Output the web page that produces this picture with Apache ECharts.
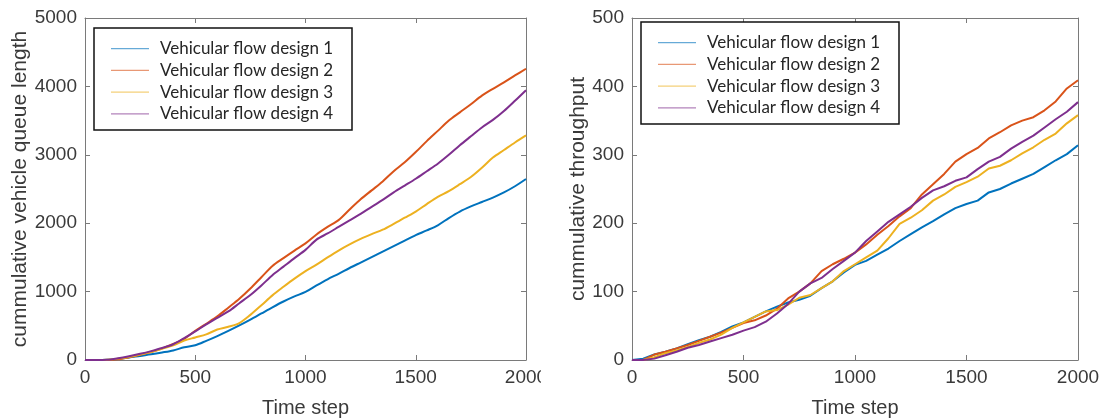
<!DOCTYPE html>
<html>
<head>
<meta charset="utf-8">
<script src="https://cdn.jsdelivr.net/npm/echarts@6/dist/echarts.min.js"></script>
<style>
  html, body { margin: 0; padding: 0; background: #fff; }
  #chart { width: 1100px; height: 420px; }
</style>
</head>
<body>
<div id="chart"></div>
<script>
// Simulation time steps shared by both panels
const timeSteps = [0, 50, 100, 150, 200, 250, 300, 350, 400, 450, 500, 550, 600, 650, 700, 750, 800, 850, 900, 950,
  1000, 1050, 1100, 1150, 1200, 1250, 1300, 1350, 1400, 1450, 1500, 1550, 1600, 1650, 1700, 1750, 1800, 1850, 1900, 1950, 2000];

const designNames = ['Vehicular flow design 1', 'Vehicular flow design 2', 'Vehicular flow design 3', 'Vehicular flow design 4'];
const designColors = ['#0072BD', '#D95319', '#EDB120', '#7E2F8E'];

// Cumulative vehicle queue length
const queueDesign1 = [0, 0, 3, 15, 35, 60, 83, 110, 140, 185, 215, 280, 350, 425, 505, 590, 680, 770, 855, 930,
  995, 1090, 1180, 1260, 1345, 1425, 1505, 1585, 1665, 1745, 1825, 1895, 1970, 2075, 2170, 2245, 2310, 2375, 2450, 2540, 2646];
const queueDesign2 = [0, 0, 0, 10, 40, 75, 117, 170, 235, 310, 425, 530, 637, 765, 895, 1045, 1210, 1375, 1490, 1600,
  1705, 1835, 1945, 2045, 2200, 2350, 2480, 2610, 2760, 2890, 3040, 3200, 3350, 3500, 3620, 3740, 3865, 3965, 4060, 4160, 4258];
const queueDesign3 = [0, 0, 3, 20, 45, 80, 117, 165, 215, 285, 330, 375, 445, 485, 540, 660, 800, 945, 1070, 1190,
  1300, 1395, 1500, 1600, 1690, 1770, 1840, 1905, 1990, 2080, 2170, 2280, 2385, 2470, 2570, 2675, 2810, 2960, 3070, 3180, 3283];
const queueDesign4 = [0, 0, 3, 25, 55, 90, 130, 175, 230, 320, 418, 520, 615, 710, 830, 950, 1090, 1240, 1365, 1490,
  1610, 1760, 1850, 1945, 2040, 2135, 2240, 2340, 2450, 2550, 2650, 2760, 2870, 3000, 3140, 3270, 3400, 3510, 3640, 3790, 3945];

// Cumulative throughput
const throughputDesign1 = [0, 2, 8, 12, 17, 23, 29, 34, 41, 49, 55, 63, 71, 78, 84, 88, 94, 105, 115, 128,
  139, 145, 154, 163, 174, 184, 194, 203, 213, 222, 228, 233, 245, 250, 258, 265, 272, 282, 292, 301, 314];
const throughputDesign2 = [0, 0, 8, 12, 17, 22, 28, 34, 40, 47, 54, 58, 65, 75, 90, 100, 112, 130, 140, 148,
  157, 169, 183, 196, 210, 222, 242, 257, 272, 290, 301, 310, 324, 333, 343, 350, 355, 365, 378, 397, 409];
const throughputDesign3 = [0, 0, 4, 10, 14, 19, 25, 30, 37, 47, 55, 63, 71, 73, 81, 91, 95, 105, 115, 130,
  140, 150, 160, 178, 199, 208, 219, 233, 242, 253, 260, 268, 280, 284, 292, 302, 311, 322, 331, 346, 358];
const throughputDesign4 = [0, 0, 2, 7, 12, 18, 22, 27, 32, 37, 43, 48, 56, 68, 82, 100, 112, 120, 133, 145,
  157, 174, 188, 202, 213, 224, 237, 248, 254, 262, 267, 279, 290, 297, 309, 319, 328, 340, 352, 363, 377];

// Axis ticks
const timeTicks = { min: 0, max: 2000, interval: 500 };
const queueTicks = { min: 0, max: 5000, interval: 1000 };
const throughputTicks = { min: 0, max: 500, interval: 100 };

const queueSets = [queueDesign1, queueDesign2, queueDesign3, queueDesign4];
const throughputSets = [throughputDesign1, throughputDesign2, throughputDesign3, throughputDesign4];

const axisGray = '#7a7a7a';
const textDark = '#3a3a3a';
const tickFont = { fontFamily: 'Liberation Sans', fontSize: 19, color: textDark };

function pairs(values) {
  return timeSteps.map((t, i) => [t, values[i]]);
}

function boxAxes(gridIndex, ticks, isX, axisName, nameGap) {
  // bottom/left axis with labels plus a bare top/right axis to close the box
  const main = {
    type: 'value', gridIndex, min: ticks.min, max: ticks.max, interval: ticks.interval,
    position: isX ? 'bottom' : 'left',
    axisLine: { show: true, onZero: false, lineStyle: { color: axisGray, width: 1 } },
    axisTick: { show: true, inside: true, length: 5, lineStyle: { color: axisGray } },
    axisLabel: Object.assign({ margin: 8, formatter: v => String(v) }, tickFont),
    splitLine: { show: false },
    name: axisName, nameLocation: 'middle', nameGap: nameGap,
    nameTextStyle: { fontFamily: 'Liberation Sans', fontSize: isX ? 20 : 21, color: textDark }
  };
  const opposite = {
    type: 'value', gridIndex, min: ticks.min, max: ticks.max, interval: ticks.interval,
    position: isX ? 'top' : 'right',
    axisLine: { show: true, onZero: false, lineStyle: { color: axisGray, width: 1 } },
    axisTick: { show: true, inside: true, length: 5, lineStyle: { color: axisGray } },
    axisLabel: { show: false },
    splitLine: { show: false }
  };
  return [main, opposite];
}

const xAxes = [
  ...boxAxes(0, timeTicks, true, 'Time step', 38),
  ...boxAxes(1, timeTicks, true, 'Time step', 38)
];
const yAxes = [
  ...boxAxes(0, queueTicks, false, 'cummulative vehicle queue length', 51),
  ...boxAxes(1, throughputTicks, false, 'cummulative throughput', 42)
];

const series = [];
queueSets.forEach((vals, i) => {
  series.push({
    name: designNames[i], type: 'line', xAxisIndex: 0, yAxisIndex: 0,
    data: pairs(vals), showSymbol: false, smooth: 0.3,
    lineStyle: { width: 2, color: designColors[i] }, itemStyle: { color: designColors[i] }
  });
});
throughputSets.forEach((vals, i) => {
  series.push({
    name: designNames[i], type: 'line', xAxisIndex: 2, yAxisIndex: 2,
    data: pairs(vals), showSymbol: false,
    lineStyle: { width: 2, color: designColors[i] }, itemStyle: { color: designColors[i] }
  });
});

function legendAt(left, top) {
  return {
    left: left, top: top, orient: 'vertical', z: 20,
    data: designNames, icon: 'rect', itemWidth: 38, itemHeight: 1.2, itemGap: 1.7,
    padding: [10.7, 0, 0, 17],
    selectedMode: false,
    itemStyle: { opacity: 0.6 },
    textStyle: { fontFamily: 'Lato', fontSize: 17, color: '#262626', lineHeight: 20, padding: [0, 0, 0, 6] }
  };
}

const chart = echarts.init(document.getElementById('chart'), null, { renderer: 'canvas' });
chart.setOption({
  backgroundColor: '#ffffff',
  animation: false,
  grid: [
    { left: 85, right: 574, top: 18, bottom: 60, outerBoundsMode: 'none' },
    { left: 632, right: 22, top: 18, bottom: 60, outerBoundsMode: 'none' }
  ],
  xAxis: xAxes,
  yAxis: yAxes,
  legend: [legendAt(94, 28), legendAt(641, 22)],
  graphic: [
    // legend frames
    { type: 'rect', z: 15, shape: { x: 94, y: 28, width: 258, height: 102 },
      style: { fill: '#fff', stroke: '#111', lineWidth: 1.5 } },
    { type: 'rect', z: 15, shape: { x: 641, y: 22, width: 258, height: 102 },
      style: { fill: '#fff', stroke: '#111', lineWidth: 1.5 } },
    // the left panel's last time label runs past its figure edge
    { type: 'rect', z: 30, shape: { x: 541, y: 366, width: 20, height: 28 },
      style: { fill: '#fff', stroke: null } }
  ],
  series: series
});
</script>
</body>
</html>
